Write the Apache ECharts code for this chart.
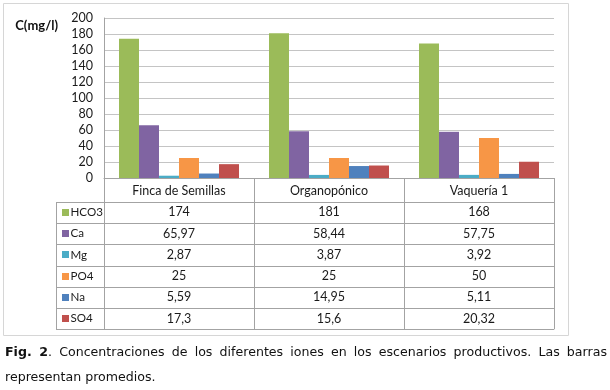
<!DOCTYPE html>
<html>
<head>
<meta charset="utf-8">
<script src="https://cdn.jsdelivr.net/npm/echarts@6/dist/echarts.min.js"></script>
<style>
html,body{margin:0;padding:0;background:#fff;}
#chart{position:absolute;left:0;top:0;width:610px;height:390px;}
.cap{position:absolute;left:5px;width:602px;font-family:'DejaVu Sans',Verdana,sans-serif;font-size:12.6px;line-height:16px;color:#111;}
#cap1{top:344px;text-align:justify;text-align-last:justify;}
#cap2{top:369px;text-align:left;}
</style>
</head>
<body>
<div id="chart"></div>
<div class="cap" id="cap1"><b>Fig. 2</b>. Concentraciones de los diferentes iones en los escenarios productivos. Las barras</div>
<div class="cap" id="cap2">representan promedios.</div>
<script>
// ---- data ----
const categories = ['Finca de Semillas', 'Organopónico', 'Vaquería 1'];
const seriesNames = ['HCO3', 'Ca', 'Mg', 'PO4', 'Na', 'SO4'];
const hco3 = [174, 181, 168];
const ca = [65.97, 58.44, 57.75];
const mg = [2.87, 3.87, 3.92];
const po4 = [25, 25, 50];
const na = [5.59, 14.95, 5.11];
const so4 = [17.3, 15.6, 20.32];
const yMin = 0, yMax = 200, yStep = 20;
const yTitle = 'C(mg/l)';

// ---- style ----
const seriesData = [hco3, ca, mg, po4, na, so4];
const colors = ['#9BBB59', '#8064A2', '#4BACC6', '#F79646', '#4F81BD', '#C0504D'];
const FONT = 'Lato, "Open Sans", sans-serif';
const tableLine = '#a3a3a3';
const W = 610, H = 390;
const gridLeft = 104, gridRight = 554, gridTop = 18, zeroY = 178;
const headerH = 23.7, rowH = 21.27, legendLeft = 56;
const tableBottom = zeroY + headerH + rowH * seriesNames.length;

const chart = echarts.init(document.getElementById('chart'), null, {renderer: 'canvas'});

function fmt(v) { return String(v).replace('.', ','); }

chart.setOption({
  animation: false,
  backgroundColor: '#fff',
  grid: {left: gridLeft, right: W - gridRight, top: gridTop, bottom: H - zeroY, containLabel: false},
  xAxis: {
    type: 'category',
    data: categories,
    boundaryGap: true,
    axisLine: {show: true, lineStyle: {color: tableLine, width: 1}},
    axisTick: {show: true, interval: 0, length: tableBottom - zeroY, lineStyle: {color: tableLine, width: 1}},
    axisLabel: {show: true, interval: 0, margin: 6, fontFamily: FONT, fontSize: 12.5, color: '#1a1a1a'},
    splitLine: {show: false}
  },
  yAxis: {
    type: 'value',
    min: yMin, max: yMax, interval: yStep,
    name: yTitle,
    nameLocation: 'end',
    nameGap: -8,
    nameTextStyle: {fontFamily: FONT, fontWeight: 'bold', fontSize: 13, color: '#111', align: 'right', verticalAlign: 'middle', padding: [0, 46, 0, 0]},
    axisLine: {show: true, lineStyle: {color: tableLine, width: 1}},
    axisTick: {show: false},
    axisLabel: {margin: 11, fontFamily: FONT, fontSize: 12.5, color: '#1a1a1a'},
    splitLine: {show: true, lineStyle: {color: '#c4c4c4', width: 1}}
  },
  series: seriesNames.map((n, i) => ({
    name: n,
    type: 'bar',
    data: seriesData[i],
    barGap: '0%',
    barCategoryGap: '20%',
    itemStyle: {color: colors[i]}
  }))
});

// ---- data table below the axis (built from the arrays, positioned via the axis) ----
const g = [];
// outer chart frame
g.push({type: 'rect', shape: {x: 3.5, y: 3.5, width: 565, height: 332}, style: {fill: 'none', stroke: '#d6d6d6', lineWidth: 1}, silent: true, z: -1});
// horizontal row lines
for (let k = 0; k <= seriesNames.length; k++) {
  const y = Math.round(zeroY + headerH + k * rowH) + 0.5;
  g.push({type: 'line', shape: {x1: legendLeft, y1: y, x2: gridRight, y2: y}, style: {stroke: tableLine, lineWidth: 1}, silent: true});
}
// left border of legend column
g.push({type: 'line', shape: {x1: legendLeft + 0.5, y1: Math.round(zeroY + headerH) + 0.5, x2: legendLeft + 0.5, y2: Math.round(tableBottom) + 0.5}, style: {stroke: tableLine, lineWidth: 1}, silent: true});

seriesNames.forEach((n, i) => {
  const cy = zeroY + headerH + (i + 0.5) * rowH;
  g.push({type: 'rect', shape: {x: legendLeft + 6, y: Math.round(cy - 3.5), width: 7, height: 7}, style: {fill: colors[i]}, silent: true});
  g.push({type: 'text', x: legendLeft + 14.5, y: cy, style: {text: n, fontFamily: FONT, fontSize: 11.6, fill: '#1a1a1a', align: 'left', verticalAlign: 'middle'}, silent: true});
  categories.forEach((c, j) => {
    const cx = chart.convertToPixel({xAxisIndex: 0}, c);
    g.push({type: 'text', x: cx, y: cy, style: {text: fmt(seriesData[i][j]), fontFamily: FONT, fontSize: 12.5, fill: '#1a1a1a', align: 'center', verticalAlign: 'middle'}, silent: true});
  });
});

chart.setOption({graphic: {elements: g}});
</script>
</body>
</html>
